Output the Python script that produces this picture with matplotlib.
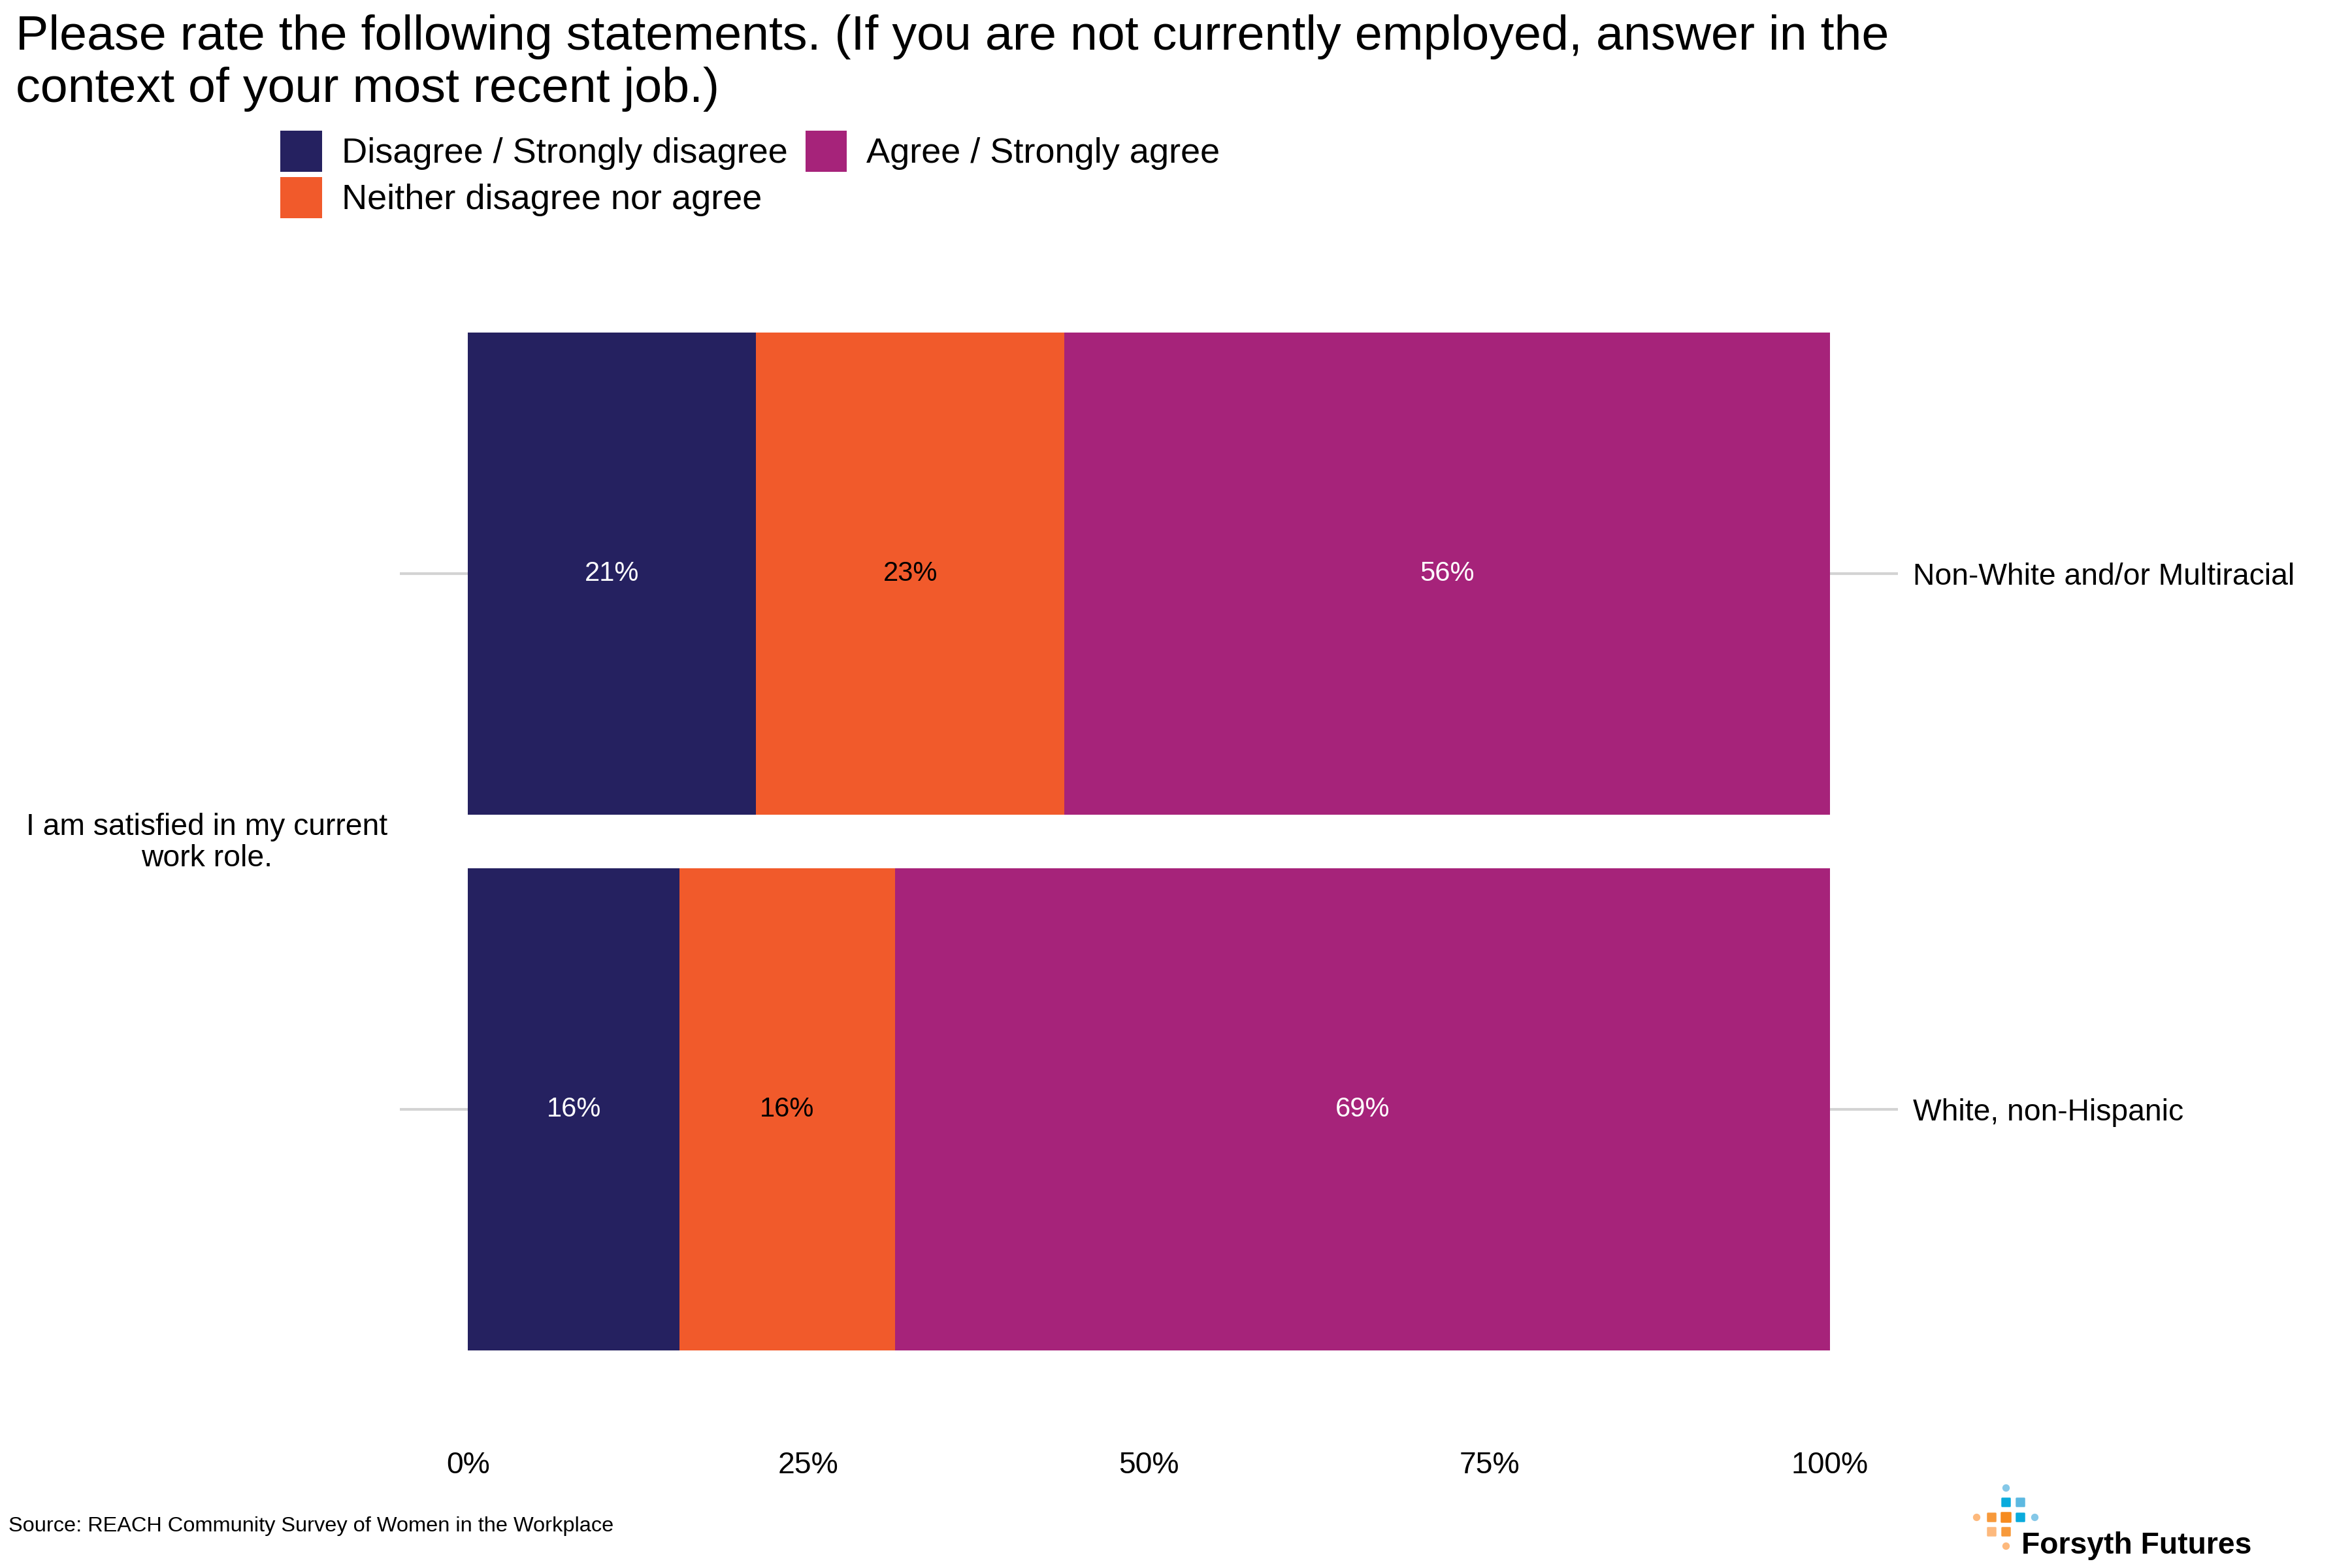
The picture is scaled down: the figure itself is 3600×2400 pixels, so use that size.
import matplotlib.pyplot as plt
from matplotlib.patches import Patch

plt.rcParams['font.family'] = ['Liberation Sans', 'DejaVu Sans']

# data
groups = ['White, non-Hispanic', 'Non-White and/or Multiracial']
categories = ['Disagree / Strongly disagree', 'Neither disagree nor agree', 'Agree / Strongly agree']
disagree = [15.55, 21.16]
neither = [15.79, 22.65]
agree = [68.66, 56.19]
colors = ['#252160', '#F15A2B', '#A6237A']
label_colors = ['white', 'black', 'white']
x_ticks = [0, 25, 50, 75, 100]
x_tick_labels = ['0%', '25%', '50%', '75%', '100%']
question = 'I am satisfied in my current\nwork role.'

W, H = 3600, 2400
fig = plt.figure(figsize=(12, 8), dpi=300)

ax = fig.add_axes([612 / W, 1 - 2190 / H, (2905 - 612) / W, (2190 - 386) / H])
ypos = [1, 2]

# grid lines behind the bars
for y in ypos:
    ax.axhline(y, color='#D3D3D3', linewidth=1.0, zorder=0)

left = [0, 0]
series = [disagree, neither, agree]
for vals, col, lcol in zip(series, colors, label_colors):
    ax.barh(ypos, vals, left=left, height=0.9, color=col, zorder=2)
    for y, l, v in zip(ypos, left, vals):
        ax.text(l + v / 2, y, f'{round(v)}%', ha='center', va='center',
                color=lcol, fontsize=10, zorder=3)
    left = [a + b for a, b in zip(left, vals)]

ax.set_xlim(-5, 105)
ax.set_ylim(0.4, 2.6)
ax.set_xticks(x_ticks)
ax.set_xticklabels(x_tick_labels, fontsize=11.1)
ax.set_yticks([])
ax.tick_params(axis='x', length=0, pad=7.5)
for s in ax.spines.values():
    s.set_visible(False)

# group labels on the right
ax2 = ax.twinx()
ax2.set_ylim(ax.get_ylim())
ax2.set_yticks(ypos)
ax2.set_yticklabels(groups, fontsize=11.1)
ax2.tick_params(axis='y', length=0, pad=5.5)
for s in ax2.spines.values():
    s.set_visible(False)

# question label on the left
fig.text(317 / W, 1 - 1290 / H, question, ha='center', va='center',
         fontsize=11.1, linespacing=1.12, multialignment='center')

# title
fig.text(24 / W, 1 - 22 / H,
         'Please rate the following statements. (If you are not currently employed, answer in the\n'
         'context of your most recent job.)',
         ha='left', va='top', fontsize=18.1, linespacing=1.2)

# legend
handles = [Patch(facecolor=c, edgecolor='none') for c in colors]
fig.legend(handles, categories, loc='upper left',
           bbox_to_anchor=(429 / W, 1 - 200 / H), ncol=2, frameon=False,
           fontsize=13, borderpad=0, borderaxespad=0,
           handlelength=1.18, handleheight=1.41, handletextpad=0.55,
           columnspacing=0.5, labelspacing=0.15)

# source
fig.text(13 / W, 1 - 2344 / H, 'Source: REACH Community Survey of Women in the Workplace',
         ha='left', va='baseline', fontsize=7.8)

# logo
lax = fig.add_axes([3000 / W, 1 - 2390 / H, 150 / W, 130 / H])
lax.set_xlim(3000, 3150)
lax.set_ylim(2390, 2260)
lax.axis('off')
dots_x = [3070, 3070, 3092, 3025, 3048, 3070, 3092, 3114, 3048, 3070, 3070]
dots_y = [2277, 2299, 2299, 2322, 2322, 2322, 2322, 2322, 2344, 2344, 2366]
dots_c = ['#85C8E8', '#0AABDC', '#5DB9E1', '#FDB97D', '#F7993A', '#F68B1F',
          '#0AABDC', '#85C8E8', '#FDB97D', '#F7993A', '#FDB97D']
dots_s = [4.5, 9, 7, 4.5, 8, 10, 9, 4.5, 7, 8, 4.5]
dots_m = ['o', 's', 's', 'o', 's', 's', 's', 'o', 's', 's', 'o']
for x, y, c, s, m in zip(dots_x, dots_y, dots_c, dots_s, dots_m):
    lax.scatter(x, y, s=s, c=c, marker=m, edgecolors=c, linewidths=0.6)
fig.text(3094 / W, 1 - 2378 / H, 'Forsyth Futures', ha='left', va='baseline',
         fontsize=11.1, fontweight='bold')

fig.savefig('out.png', dpi=300)
